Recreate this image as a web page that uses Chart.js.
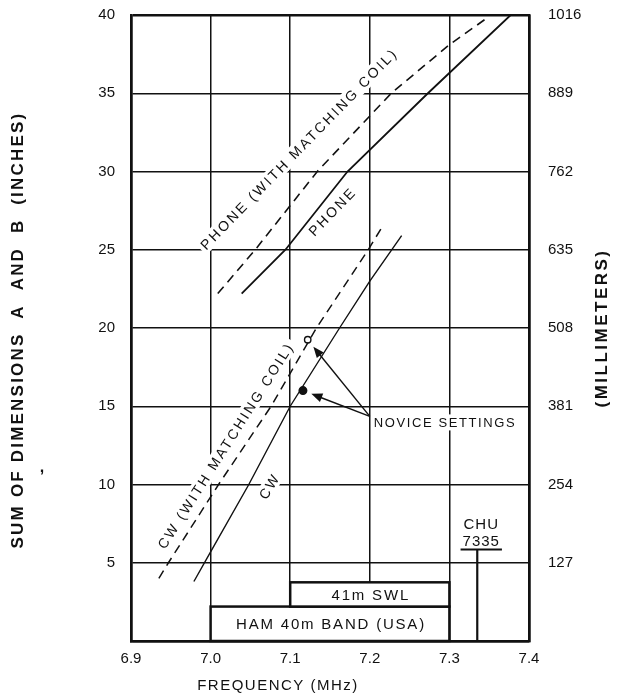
<!DOCTYPE html>
<html>
<head>
<meta charset="utf-8">
<script src="https://cdn.jsdelivr.net/npm/chart.js@4.4.1/dist/chart.umd.min.js"></script>
<style>
  html, body { margin: 0; padding: 0; background: #fff; }
</style>
</head>
<body>
<canvas id="antenna" width="621" height="694"></canvas>
<script>
// values (frequency in MHz, length A+B in inches)
const phoneFreq = [7.039, 7.094, 7.172, 7.273, 7.377];
const phoneInches = [22.2, 25, 30, 35, 40];
const phoneCoilFreq = [7.009, 7.056, 7.134, 7.227, 7.300, 7.347];
const phoneCoilInches = [22.2, 25, 30, 35, 38.1, 39.8];
const cwFreq = [6.979, 7.000, 7.048, 7.100, 7.162, 7.200, 7.240];
const cwInches = [3.8, 5.7, 10, 15, 20, 23.0, 25.9];
const cwCoilFreq = [6.935, 6.947, 7.010, 7.076, 7.133, 7.198, 7.216];
const cwCoilInches = [4.0, 5, 10, 15, 20, 25, 26.5];
const noviceFreq = [7.116, 7.122];
const noviceInches = [16.0, 19.25];

// tick labels
const freqTickLabels = ['6.9', '7.0', '7.1', '7.2', '7.3', '7.4'];
const inchTickLabels = ['', '5', '10', '15', '20', '25', '30', '35', '40'];
const mmTickLabels = ['', '127', '254', '381', '508', '635', '762', '889', '1016'];

// band boxes along the bottom
const bandNames = ['HAM 40m BAND (USA)', '41m SWL'];
const bandFrom = [7.0, 7.1];
const bandTo = [7.3, 7.3];
const bandBottom = [0, 2.2];
const bandTop = [2.2, 3.75];

// CHU time station marker
const chuFreq = 7.335;
const chuTop = 5.85;
const chuText = ['CHU', '7335'];

// text written along the curves
const curveLabels = ['PHONE (WITH MATCHING COIL)', 'PHONE', 'CW (WITH MATCHING COIL)', 'CW'];
const curveOf = [1, 0, 3, 2];
const labelFreq = [7.111, 7.153, 7.019, 7.074];
const labelInches = [31.45, 27.45, 12.5, 9.9];

const noviceText = 'NOVICE SETTINGS';
const noviceFrom = { f: 7.2, v: 14.35 };

const ink = '#111';
const FONT = '"Liberation Sans", Arial, sans-serif';
Chart.defaults.font.family = FONT;
Chart.defaults.color = ink;

const xy = (xs, ys) => xs.map((x, i) => ({ x: x, y: ys[i] }));
const near = (a, b) => Math.abs(a - b) < 1e-6;

const notes = {
  id: 'notes',
  beforeDatasetsDraw(chart) {
    const { ctx, scales: { x, y } } = chart;
    ctx.save();
    ctx.textAlign = 'center';
    ctx.textBaseline = 'middle';

    bandNames.forEach((name, i) => {
      const l = x.getPixelForValue(bandFrom[i]);
      const r = x.getPixelForValue(bandTo[i]);
      const t = y.getPixelForValue(bandTop[i]);
      const b = y.getPixelForValue(bandBottom[i]);
      ctx.fillStyle = '#fff';
      ctx.fillRect(l, t, r - l, b - t);
      ctx.lineWidth = 2.5;
      ctx.strokeStyle = ink;
      ctx.strokeRect(l, t, r - l, b - t);
      ctx.fillStyle = ink;
      ctx.font = '15px ' + FONT;
      ctx.letterSpacing = '1.8px';
      ctx.fillText(name, (l + r) / 2 + 1, (t + b) / 2 + 1);
    });

    curveLabels.forEach((text, i) => {
      const pts = chart.getDatasetMeta(curveOf[i]).data;
      const p0 = pts[0], p1 = pts[pts.length - 1];
      const a = Math.atan2(p1.y - p0.y, p1.x - p0.x);
      ctx.save();
      ctx.translate(x.getPixelForValue(labelFreq[i]), y.getPixelForValue(labelInches[i]));
      ctx.rotate(a);
      ctx.font = '14px ' + FONT;
      ctx.letterSpacing = '2.4px';
      const w = ctx.measureText(text).width;
      ctx.fillStyle = '#fff';
      ctx.fillRect(-w / 2 - 3, -8, w + 6, 16);
      ctx.fillStyle = ink;
      ctx.fillText(text, 0, 1);
      ctx.restore();
    });

    // novice label
    ctx.font = '13px ' + FONT;
    ctx.letterSpacing = '1.6px';
    ctx.textAlign = 'left';
    const nx = x.getPixelForValue(noviceFrom.f) + 4;
    const ny = y.getPixelForValue(noviceFrom.v) + 6;
    const nw = ctx.measureText(noviceText).width;
    ctx.fillStyle = '#fff';
    ctx.fillRect(nx - 2, ny - 8, nw + 4, 16);
    ctx.fillStyle = ink;
    ctx.fillText(noviceText, nx, ny + 1);

    // CHU label
    const cx = x.getPixelForValue(chuFreq) + 4;
    const cy = y.getPixelForValue(chuTop);
    ctx.font = '15px ' + FONT;
    ctx.letterSpacing = '1px';
    ctx.textAlign = 'center';
    ctx.textBaseline = 'alphabetic';
    ctx.fillText(chuText[1], cx, cy - 3);
    ctx.fillText(chuText[0], cx, cy - 20);
    ctx.restore();
  },
  afterDatasetsDraw(chart) {
    const { ctx, scales: { x, y } } = chart;
    ctx.save();
    ctx.strokeStyle = ink;
    ctx.fillStyle = ink;

    // arrows from the label to the two novice points
    const sx = x.getPixelForValue(noviceFrom.f);
    const sy = y.getPixelForValue(noviceFrom.v);
    chart.getDatasetMeta(4).data.forEach(pt => {
      const dx = pt.x - sx, dy = pt.y - sy;
      const len = Math.hypot(dx, dy);
      const ux = dx / len, uy = dy / len;
      const tx = pt.x - ux * 9, ty = pt.y - uy * 9;
      ctx.lineWidth = 1.4;
      ctx.beginPath();
      ctx.moveTo(sx, sy);
      ctx.lineTo(tx - ux * 8, ty - uy * 8);
      ctx.stroke();
      ctx.beginPath();
      ctx.moveTo(tx, ty);
      ctx.lineTo(tx - ux * 11 - uy * 4.5, ty - uy * 11 + ux * 4.5);
      ctx.lineTo(tx - ux * 11 + uy * 4.5, ty - uy * 11 - ux * 4.5);
      ctx.closePath();
      ctx.fill();
    });

    // CHU marker
    const cx = x.getPixelForValue(chuFreq);
    const cy = y.getPixelForValue(chuTop);
    ctx.lineWidth = 2.2;
    ctx.beginPath();
    ctx.moveTo(cx, y.getPixelForValue(0));
    ctx.lineTo(cx, cy);
    ctx.stroke();
    ctx.font = '15px ' + FONT;
    ctx.letterSpacing = '1px';
    const uw = ctx.measureText(chuText[1]).width + 4;
    ctx.lineWidth = 2;
    ctx.beginPath();
    ctx.moveTo(cx + 4 - uw / 2, cy);
    ctx.lineTo(cx + 4 + uw / 2, cy);
    ctx.stroke();
    ctx.restore();
  },
  afterDraw(chart) {
    const { ctx, chartArea: area } = chart;
    const midY = (area.top + area.bottom) / 2;
    ctx.save();
    ctx.fillStyle = ink;
    ctx.textAlign = 'center';
    ctx.textBaseline = 'middle';

    ctx.font = 'bold 17px ' + FONT;
    ctx.letterSpacing = '2.2px';
    ctx.save();
    ctx.translate(area.left - 113, midY + 2);
    ctx.rotate(-Math.PI / 2);
    ctx.fillText('SUM OF DIMENSIONS  A  AND  B  (INCHES)', 0, 0);
    ctx.restore();

    ctx.letterSpacing = '2.5px';
    ctx.save();
    ctx.translate(area.right + 73, midY);
    ctx.rotate(-Math.PI / 2);
    ctx.fillText('(MILLIMETERS)', 0, 0);
    ctx.restore();

    ctx.font = 'bold 16px ' + FONT;
    ctx.letterSpacing = '0px';
    ctx.fillText(',', area.left - 89, midY + 140);

    ctx.font = '15px ' + FONT;
    ctx.letterSpacing = '1.5px';
    ctx.fillText('FREQUENCY (MHz)', area.left + 147, area.bottom + 45);
    ctx.restore();
  }
};

const edgeWidth = (ctx, lo, hi) => (near(ctx.tick.value, lo) || near(ctx.tick.value, hi)) ? 2.5 : 1.5;
const clear = 'rgba(0,0,0,0)';

new Chart(document.getElementById('antenna'), {
  type: 'line',
  data: {
    datasets: [
      { label: 'PHONE', data: xy(phoneFreq, phoneInches), borderColor: ink, borderWidth: 1.8,
        pointRadius: 0, tension: 0 },
      { label: 'PHONE (WITH MATCHING COIL)', data: xy(phoneCoilFreq, phoneCoilInches), borderColor: ink,
        borderWidth: 1.6, borderDash: [9, 6], pointRadius: 0, tension: 0 },
      { label: 'CW', data: xy(cwFreq, cwInches), borderColor: ink, borderWidth: 1.4,
        pointRadius: 0, tension: 0 },
      { label: 'CW (WITH MATCHING COIL)', data: xy(cwCoilFreq, cwCoilInches), borderColor: ink,
        borderWidth: 1.5, borderDash: [9, 6], pointRadius: 0, tension: 0 },
      { label: 'NOVICE SETTINGS', data: xy(noviceFreq, noviceInches), showLine: false,
        pointRadius: [3.8, 3.2], pointBackgroundColor: [ink, '#fff'], pointBorderColor: ink, pointBorderWidth: 1.4 }
    ]
  },
  options: {
    responsive: false,
    animation: false,
    layout: { padding: { top: 15, left: 0, right: 0, bottom: 0 } },
    plugins: { legend: { display: false }, tooltip: { enabled: false } },
    scales: {
      x: {
        type: 'linear', min: 6.9, max: 7.4,
        ticks: { stepSize: 0.1, padding: 2, font: { size: 15 }, color: ink,
          callback: (v, i) => freqTickLabels[i] },
        grid: { color: ink, tickColor: clear, tickLength: 7, lineWidth: ctx => edgeWidth(ctx, 6.9, 7.4) },
        border: { display: true, color: ink, width: 2.5 },
        afterFit: s => { s.height = 53; }
      },
      y: {
        position: 'left', min: 0, max: 40,
        ticks: { stepSize: 5, padding: 2, font: { size: 15 }, color: ink,
          callback: (v, i) => inchTickLabels[i] },
        grid: { color: ink, tickColor: clear, tickLength: 14, lineWidth: ctx => edgeWidth(ctx, 0, 40) },
        border: { display: true, color: ink, width: 2.5 },
        afterFit: s => { s.width = 131; }
      },
      mm: {
        position: 'right', min: 0, max: 40,
        ticks: { stepSize: 5, padding: 2, font: { size: 15 }, color: ink,
          callback: (v, i) => mmTickLabels[i] },
        grid: { drawOnChartArea: false, tickColor: clear, tickLength: 17 },
        border: { display: true, color: ink, width: 2.5 },
        afterFit: s => { s.width = 92; }
      }
    }
  },
  plugins: [notes]
});
</script>
</body>
</html>
